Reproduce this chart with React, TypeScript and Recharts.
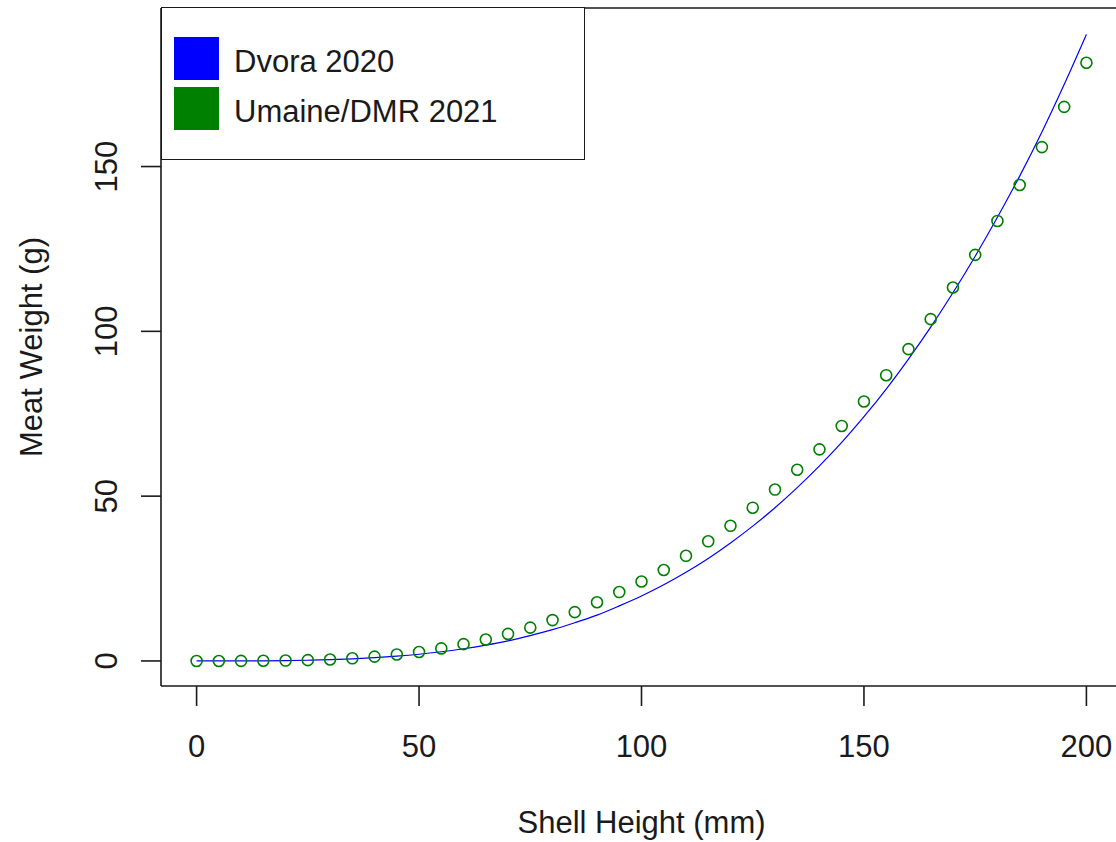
import { ComposedChart, Line, Scatter, XAxis, YAxis, ReferenceLine, Label } from "recharts"

// shell height (mm), one point every 5 mm
const heights = [
  0, 5, 10, 15, 20, 25, 30, 35, 40, 45, 50, 55, 60, 65, 70, 75, 80, 85, 90, 95, 100,
  105, 110, 115, 120, 125, 130, 135, 140, 145, 150, 155, 160, 165, 170, 175, 180, 185, 190, 195, 200,
]

// Dvora 2020 curve (g)
const dvoraWeights = [
  0, 0, 0.01, 0.04, 0.1, 0.21, 0.39, 0.64, 0.99, 1.45, 2.04, 2.8, 3.7, 4.8, 6.1, 7.7, 9.5, 11.6, 13.9, 16.7, 19.7,
  23.1, 26.9, 31.1, 35.8, 40.9, 46.5, 52.6, 59.2, 66.3, 74.1, 82.5, 91.6, 101.3, 111.7, 122.8, 134.6, 147.1, 160.5, 174.9, 190.1,
]

// Umaine/DMR 2021 points (g)
const umaineWeights = [
  0, 0, 0.01, 0.05, 0.12, 0.25, 0.45, 0.8, 1.3, 1.95, 2.7, 3.8, 5.1, 6.5, 8.2, 10.1, 12.4, 14.8, 17.8, 20.9, 24.1,
  27.6, 31.9, 36.3, 41.0, 46.5, 52.0, 58.0, 64.2, 71.3, 78.7, 86.7, 94.6, 103.7, 113.3, 123.2, 133.5, 144.4, 155.9, 168.1, 181.5,
]

const xTicks = [0, 50, 100, 150, 200]
const yTicks = [0, 50, 100, 150]
const xDomain = [-8, 208]
const yDomain = [-7.6, 198.1]

const BLUE = "#0000FF"
const GREEN = "#008000"
const INK = "#1a1a1a"
const FONT = "'Liberation Sans', Arial, sans-serif"

const legendItems = [
  { label: "Dvora 2020", color: BLUE },
  { label: "Umaine/DMR 2021", color: GREEN },
]

const dvora = heights.map((h, i) => ({ h, w: dvoraWeights[i] }))
const umaine = heights.map((h, i) => ({ h, w: umaineWeights[i] }))

function YTick(props: any) {
  const { x, y, payload } = props
  return (
    <text x={x} y={y} transform={`rotate(-90 ${x} ${y})`} textAnchor="middle" fontSize={31} fill={INK} fontFamily={FONT}>
      {payload.value}
    </text>
  )
}

function YTitle(props: any) {
  const vb = props.viewBox
  const cx = vb.x + 42
  const cy = vb.y + vb.height / 2
  return (
    <text x={cx} y={cy} transform={`rotate(-90 ${cx} ${cy})`} textAnchor="middle" fontSize={31} fill={INK} fontFamily={FONT}>
      Meat Weight (g)
    </text>
  )
}

function Ring(props: any) {
  return <circle cx={props.cx} cy={props.cy} r={5.5} fill="none" stroke={GREEN} strokeWidth={1.6} />
}

export default function App() {
  return (
    <div style={{ position: "absolute", left: 0, top: 0, width: 1116, height: 842, background: "#fff", fontFamily: FONT }}>
      <ComposedChart width={1116} height={842} margin={{ top: 8, right: -6, bottom: 0, left: 0 }}>
        <XAxis
          type="number"
          dataKey="h"
          domain={xDomain}
          ticks={xTicks}
          allowDataOverflow
          height={156}
          tickSize={20}
          tickMargin={29}
          axisLine={{ stroke: INK, strokeWidth: 1.6 }}
          tickLine={{ stroke: INK, strokeWidth: 1.6 }}
          tick={{ fontSize: 31, fill: INK, fontFamily: FONT }}
        >
          <Label value="Shell Height (mm)" position="insideBottom" offset={9} fontSize={31} fill={INK} fontFamily={FONT} />
        </XAxis>
        <YAxis
          type="number"
          dataKey="w"
          domain={yDomain}
          ticks={yTicks}
          allowDataOverflow
          width={161}
          tickSize={20}
          tickMargin={24}
          axisLine={{ stroke: INK, strokeWidth: 1.6 }}
          tickLine={{ stroke: INK, strokeWidth: 1.6 }}
          tick={<YTick />}
        >
          <Label content={<YTitle />} />
        </YAxis>
        <ReferenceLine y={yDomain[1]} stroke={INK} strokeWidth={1.6} />
        <Line data={dvora} dataKey="w" type="monotone" stroke={BLUE} strokeWidth={1.2} dot={false} isAnimationActive={false} />
        <Scatter data={umaine} dataKey="w" shape={<Ring />} isAnimationActive={false} />
      </ComposedChart>
      <div
        style={{
          position: "absolute",
          left: 161,
          top: 7,
          width: 422,
          height: 151,
          border: `1.6px solid ${INK}`,
          background: "#fff",
        }}
      >
        {legendItems.map((item, i) => (
          <div key={item.label} style={{ position: "absolute", left: 12, top: 29 + i * 50, height: 43, display: "flex", alignItems: "center" }}>
            <div style={{ width: 45, height: 43, background: item.color }} />
            <span style={{ marginLeft: 15, fontSize: 31, color: INK, lineHeight: "43px", position: "relative", top: 3 }}>{item.label}</span>
          </div>
        ))}
      </div>
    </div>
  )
}
